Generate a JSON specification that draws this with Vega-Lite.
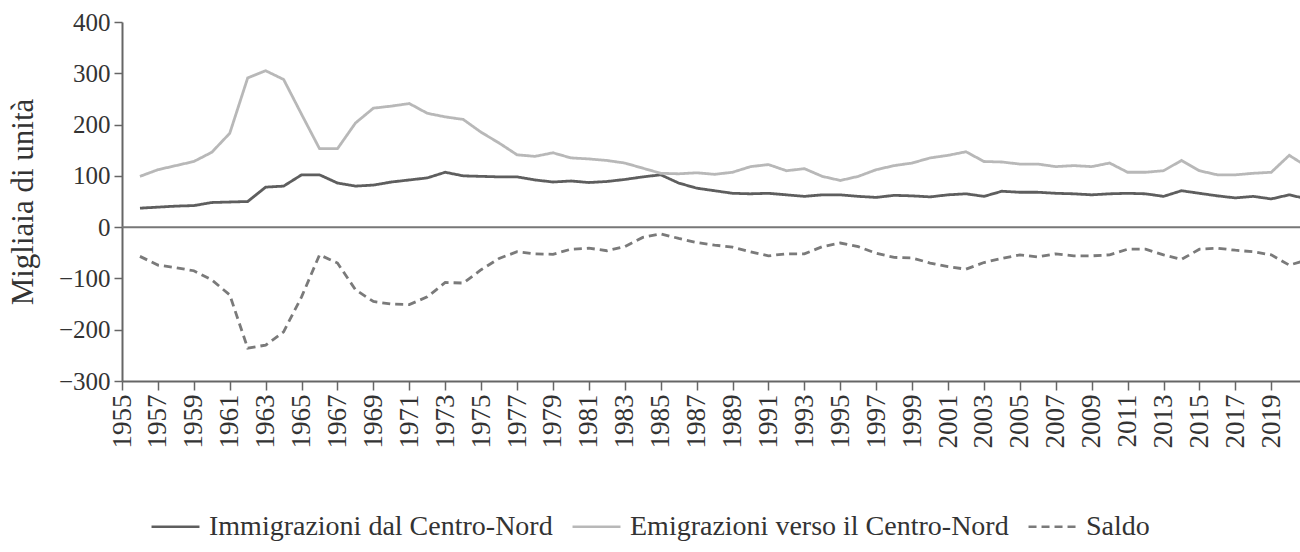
{
  "$schema": "https://vega.github.io/schema/vega-lite/v6.json",
  "width": 1178,
  "height": 359,
  "autosize": {"type": "none"},
  "padding": {"left": 122, "top": 22, "right": 0, "bottom": 171},
  "background": "white",
  "config": {"view": {"stroke": null}, "font": "Liberation Serif"},
  "data": {"values": [
    {"anno": 1956, "Immigrazioni dal Centro-Nord": 37, "Emigrazioni verso il Centro-Nord": 99, "Saldo": -57},
    {"anno": 1957, "Immigrazioni dal Centro-Nord": 39, "Emigrazioni verso il Centro-Nord": 112, "Saldo": -74},
    {"anno": 1958, "Immigrazioni dal Centro-Nord": 41, "Emigrazioni verso il Centro-Nord": 120, "Saldo": -79},
    {"anno": 1959, "Immigrazioni dal Centro-Nord": 42, "Emigrazioni verso il Centro-Nord": 128, "Saldo": -85},
    {"anno": 1960, "Immigrazioni dal Centro-Nord": 48, "Emigrazioni verso il Centro-Nord": 146, "Saldo": -103},
    {"anno": 1961, "Immigrazioni dal Centro-Nord": 49, "Emigrazioni verso il Centro-Nord": 183, "Saldo": -132},
    {"anno": 1962, "Immigrazioni dal Centro-Nord": 50, "Emigrazioni verso il Centro-Nord": 291, "Saldo": -236},
    {"anno": 1963, "Immigrazioni dal Centro-Nord": 78, "Emigrazioni verso il Centro-Nord": 305, "Saldo": -230},
    {"anno": 1964, "Immigrazioni dal Centro-Nord": 80, "Emigrazioni verso il Centro-Nord": 288, "Saldo": -204},
    {"anno": 1965, "Immigrazioni dal Centro-Nord": 102, "Emigrazioni verso il Centro-Nord": 220, "Saldo": -136},
    {"anno": 1966, "Immigrazioni dal Centro-Nord": 102, "Emigrazioni verso il Centro-Nord": 153, "Saldo": -54},
    {"anno": 1967, "Immigrazioni dal Centro-Nord": 86, "Emigrazioni verso il Centro-Nord": 153, "Saldo": -70},
    {"anno": 1968, "Immigrazioni dal Centro-Nord": 80, "Emigrazioni verso il Centro-Nord": 203, "Saldo": -122},
    {"anno": 1969, "Immigrazioni dal Centro-Nord": 82, "Emigrazioni verso il Centro-Nord": 232, "Saldo": -145},
    {"anno": 1970, "Immigrazioni dal Centro-Nord": 88, "Emigrazioni verso il Centro-Nord": 236, "Saldo": -150},
    {"anno": 1971, "Immigrazioni dal Centro-Nord": 92, "Emigrazioni verso il Centro-Nord": 241, "Saldo": -151},
    {"anno": 1972, "Immigrazioni dal Centro-Nord": 96, "Emigrazioni verso il Centro-Nord": 222, "Saldo": -136},
    {"anno": 1973, "Immigrazioni dal Centro-Nord": 107, "Emigrazioni verso il Centro-Nord": 215, "Saldo": -108},
    {"anno": 1974, "Immigrazioni dal Centro-Nord": 100, "Emigrazioni verso il Centro-Nord": 210, "Saldo": -109},
    {"anno": 1975, "Immigrazioni dal Centro-Nord": 99, "Emigrazioni verso il Centro-Nord": 185, "Saldo": -83},
    {"anno": 1976, "Immigrazioni dal Centro-Nord": 98, "Emigrazioni verso il Centro-Nord": 164, "Saldo": -61},
    {"anno": 1977, "Immigrazioni dal Centro-Nord": 98, "Emigrazioni verso il Centro-Nord": 141, "Saldo": -48},
    {"anno": 1978, "Immigrazioni dal Centro-Nord": 92, "Emigrazioni verso il Centro-Nord": 138, "Saldo": -52},
    {"anno": 1979, "Immigrazioni dal Centro-Nord": 88, "Emigrazioni verso il Centro-Nord": 145, "Saldo": -53},
    {"anno": 1980, "Immigrazioni dal Centro-Nord": 90, "Emigrazioni verso il Centro-Nord": 135, "Saldo": -43},
    {"anno": 1981, "Immigrazioni dal Centro-Nord": 87, "Emigrazioni verso il Centro-Nord": 133, "Saldo": -41},
    {"anno": 1982, "Immigrazioni dal Centro-Nord": 89, "Emigrazioni verso il Centro-Nord": 130, "Saldo": -46},
    {"anno": 1983, "Immigrazioni dal Centro-Nord": 93, "Emigrazioni verso il Centro-Nord": 125, "Saldo": -38},
    {"anno": 1984, "Immigrazioni dal Centro-Nord": 98, "Emigrazioni verso il Centro-Nord": 115, "Saldo": -20},
    {"anno": 1985, "Immigrazioni dal Centro-Nord": 102, "Emigrazioni verso il Centro-Nord": 105, "Saldo": -13},
    {"anno": 1986, "Immigrazioni dal Centro-Nord": 86, "Emigrazioni verso il Centro-Nord": 104, "Saldo": -22},
    {"anno": 1987, "Immigrazioni dal Centro-Nord": 76, "Emigrazioni verso il Centro-Nord": 106, "Saldo": -30},
    {"anno": 1988, "Immigrazioni dal Centro-Nord": 71, "Emigrazioni verso il Centro-Nord": 103, "Saldo": -35},
    {"anno": 1989, "Immigrazioni dal Centro-Nord": 66, "Emigrazioni verso il Centro-Nord": 107, "Saldo": -39},
    {"anno": 1990, "Immigrazioni dal Centro-Nord": 65, "Emigrazioni verso il Centro-Nord": 118, "Saldo": -48},
    {"anno": 1991, "Immigrazioni dal Centro-Nord": 66, "Emigrazioni verso il Centro-Nord": 122, "Saldo": -56},
    {"anno": 1992, "Immigrazioni dal Centro-Nord": 63, "Emigrazioni verso il Centro-Nord": 110, "Saldo": -52},
    {"anno": 1993, "Immigrazioni dal Centro-Nord": 60, "Emigrazioni verso il Centro-Nord": 114, "Saldo": -52},
    {"anno": 1994, "Immigrazioni dal Centro-Nord": 63, "Emigrazioni verso il Centro-Nord": 99, "Saldo": -38},
    {"anno": 1995, "Immigrazioni dal Centro-Nord": 63, "Emigrazioni verso il Centro-Nord": 91, "Saldo": -31},
    {"anno": 1996, "Immigrazioni dal Centro-Nord": 60, "Emigrazioni verso il Centro-Nord": 99, "Saldo": -38},
    {"anno": 1997, "Immigrazioni dal Centro-Nord": 58, "Emigrazioni verso il Centro-Nord": 112, "Saldo": -51},
    {"anno": 1998, "Immigrazioni dal Centro-Nord": 62, "Emigrazioni verso il Centro-Nord": 120, "Saldo": -59},
    {"anno": 1999, "Immigrazioni dal Centro-Nord": 61, "Emigrazioni verso il Centro-Nord": 125, "Saldo": -60},
    {"anno": 2000, "Immigrazioni dal Centro-Nord": 59, "Emigrazioni verso il Centro-Nord": 135, "Saldo": -70},
    {"anno": 2001, "Immigrazioni dal Centro-Nord": 63, "Emigrazioni verso il Centro-Nord": 140, "Saldo": -77},
    {"anno": 2002, "Immigrazioni dal Centro-Nord": 65, "Emigrazioni verso il Centro-Nord": 147, "Saldo": -82},
    {"anno": 2003, "Immigrazioni dal Centro-Nord": 60, "Emigrazioni verso il Centro-Nord": 128, "Saldo": -69},
    {"anno": 2004, "Immigrazioni dal Centro-Nord": 70, "Emigrazioni verso il Centro-Nord": 127, "Saldo": -61},
    {"anno": 2005, "Immigrazioni dal Centro-Nord": 68, "Emigrazioni verso il Centro-Nord": 123, "Saldo": -54},
    {"anno": 2006, "Immigrazioni dal Centro-Nord": 68, "Emigrazioni verso il Centro-Nord": 123, "Saldo": -58},
    {"anno": 2007, "Immigrazioni dal Centro-Nord": 66, "Emigrazioni verso il Centro-Nord": 118, "Saldo": -52},
    {"anno": 2008, "Immigrazioni dal Centro-Nord": 65, "Emigrazioni verso il Centro-Nord": 120, "Saldo": -56},
    {"anno": 2009, "Immigrazioni dal Centro-Nord": 63, "Emigrazioni verso il Centro-Nord": 118, "Saldo": -56},
    {"anno": 2010, "Immigrazioni dal Centro-Nord": 65, "Emigrazioni verso il Centro-Nord": 125, "Saldo": -54},
    {"anno": 2011, "Immigrazioni dal Centro-Nord": 66, "Emigrazioni verso il Centro-Nord": 107, "Saldo": -43},
    {"anno": 2012, "Immigrazioni dal Centro-Nord": 65, "Emigrazioni verso il Centro-Nord": 107, "Saldo": -43},
    {"anno": 2013, "Immigrazioni dal Centro-Nord": 60, "Emigrazioni verso il Centro-Nord": 110, "Saldo": -54},
    {"anno": 2014, "Immigrazioni dal Centro-Nord": 71, "Emigrazioni verso il Centro-Nord": 130, "Saldo": -63},
    {"anno": 2015, "Immigrazioni dal Centro-Nord": 66, "Emigrazioni verso il Centro-Nord": 110, "Saldo": -43},
    {"anno": 2016, "Immigrazioni dal Centro-Nord": 61, "Emigrazioni verso il Centro-Nord": 102, "Saldo": -41},
    {"anno": 2017, "Immigrazioni dal Centro-Nord": 57, "Emigrazioni verso il Centro-Nord": 102, "Saldo": -45},
    {"anno": 2018, "Immigrazioni dal Centro-Nord": 60, "Emigrazioni verso il Centro-Nord": 105, "Saldo": -48},
    {"anno": 2019, "Immigrazioni dal Centro-Nord": 55, "Emigrazioni verso il Centro-Nord": 107, "Saldo": -54},
    {"anno": 2020, "Immigrazioni dal Centro-Nord": 63, "Emigrazioni verso il Centro-Nord": 140, "Saldo": -74},
    {"anno": 2021, "Immigrazioni dal Centro-Nord": 55, "Emigrazioni verso il Centro-Nord": 118, "Saldo": -64}
  ]},
  "transform": [
    {"fold": ["Immigrazioni dal Centro-Nord", "Emigrazioni verso il Centro-Nord", "Saldo"], "as": ["serie", "valore"]}
  ],
  "layer": [
    {
      "mark": {"type": "line", "clip": true, "strokeWidth": 2.8},
      "encoding": {
        "x": {
          "field": "anno", "type": "quantitative",
          "scale": {"domain": [1955, 2020.6], "nice": false, "zero": false},
          "axis": {
            "values": [1955,1957,1959,1961,1963,1965,1967,1969,1971,1973,1975,1977,1979,1981,1983,1985,1987,1989,1991,1993,1995,1997,1999,2001,2003,2005,2007,2009,2011,2013,2015,2017,2019],
            "format": "d", "labelAngle": 270, "labelFontSize": 27, "labelColor": "#333",
            "labelFont": "Liberation Serif", "labelPadding": 4, "labelFlush": false, "labelOverlap": false,
            "tickColor": "#666", "tickSize": 9, "tickWidth": 1.5,
            "domainColor": "#666", "domainWidth": 2, "grid": false, "title": null
          }
        },
        "y": {
          "field": "valore", "type": "quantitative",
          "scale": {"domain": [-300, 400], "nice": false},
          "axis": {
            "values": [-300,-200,-100,0,100,200,300,400],
            "labelFontSize": 25, "labelColor": "#333", "labelFont": "Liberation Serif", "labelPadding": 4,
            "tickColor": "#666", "tickSize": 8, "tickWidth": 1.5,
            "domainColor": "#666", "domainWidth": 2, "grid": false,
            "title": "Migliaia di unità", "titleFont": "Liberation Serif", "titleFontSize": 31,
            "titleFontWeight": "normal", "titleColor": "#333", "titleX": -90, "titleBaseline": "alphabetic"
          }
        },
        "color": {
          "field": "serie", "type": "nominal",
          "scale": {"domain": ["Immigrazioni dal Centro-Nord", "Emigrazioni verso il Centro-Nord", "Saldo"], "range": ["#5e5e5e", "#b8b8b8", "#7a7a7a"]},
          "legend": {"orient": "none", "legendX": 28, "legendY": 479, "direction": "horizontal", "title": null,
            "symbolType": "stroke", "symbolSize": 2300, "symbolStrokeWidth": 2.5, "labelLimit": 0,
            "labelFont": "Liberation Serif", "labelFontSize": 28, "labelColor": "#333", "labelOffset": 8, "columnPadding": 14}
        },
        "strokeDash": {
          "field": "serie", "type": "nominal",
          "scale": {"domain": ["Immigrazioni dal Centro-Nord", "Emigrazioni verso il Centro-Nord", "Saldo"], "range": [[1, 0], [1, 0], [8, 5]]},
          "legend": {"orient": "none", "legendX": 28, "legendY": 479, "direction": "horizontal", "title": null,
            "symbolType": "stroke", "symbolSize": 2300, "symbolStrokeWidth": 2.5, "labelLimit": 0,
            "labelFont": "Liberation Serif", "labelFontSize": 28, "labelColor": "#333", "labelOffset": 8, "columnPadding": 14}
        }
      }
    },
    {
      "data": {"values": [{}]},
      "mark": {"type": "rule", "color": "#777", "strokeWidth": 2},
      "encoding": {"y": {"datum": 0, "type": "quantitative"}}
    }
  ]
}
